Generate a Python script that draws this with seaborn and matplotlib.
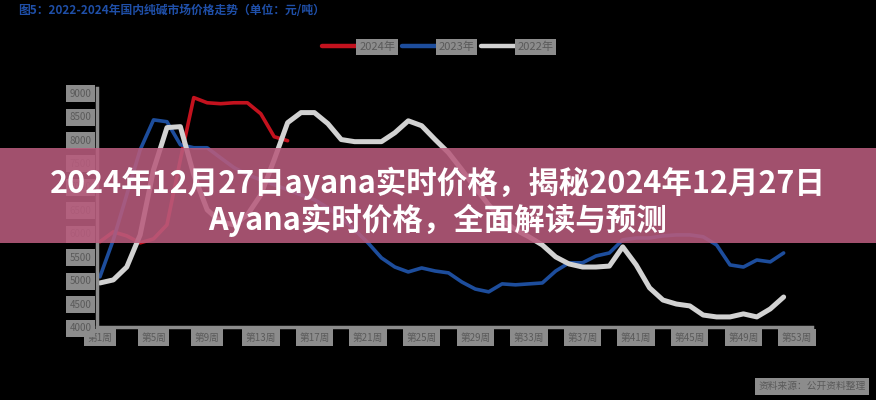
import matplotlib
matplotlib.use("Agg")
import matplotlib.pyplot as plt
from matplotlib.patches import Rectangle
import pandas as pd
import seaborn as sns

# weekly values (yuan / ton)
weeks = list(range(52))
red_2024 = [5820, 6030, 5945, 5795, 5880, 6180, 7570, 8895, 8785, 8765,
            8785, 8785, 8550, 8060, 7975]
blue_2023 = [5070, 5860, 6820, 7780, 8420, 8380, 7890, 7825, 7825, 7610,
             7400, 7250, 7140, 7035, 6930, 6820, 6715, 6545, 6330, 6075,
             5795, 5475, 5280, 5175, 5260, 5195, 5155, 4960, 4810, 4750,
             4920, 4900, 4920, 4940, 5195, 5370, 5370, 5515, 5580, 5860,
             5900, 5900, 5945, 5965, 5965, 5925, 5750, 5325, 5280, 5430,
             5390, 5580]
gray_2022 = [4940, 5005, 5280, 5965, 7355, 8255, 8275, 7250, 6500, 6245,
             6180, 6395, 6820, 7570, 8360, 8575, 8575, 8340, 8000, 7955,
             7955, 7955, 8145, 8400, 8295, 8000, 7720, 7355, 6970, 6605,
             6285, 6075, 5925, 5750, 5495, 5345, 5280, 5280, 5300, 5710,
             5325, 4835, 4575, 4490, 4450, 4255, 4215, 4215, 4280, 4215,
             4385, 4640]
series_names = ["2024年", "2023年", "2022年"]
series_colors = ["#c3121e", "#1d4d9c", "#d2d2d2"]
x_ticks = list(range(0, 53, 4))
x_labels = ["第%d周" % (w + 1) for w in x_ticks]
y_ticks = list(range(4000, 9001, 500))

title = "图5：2022-2024年国内纯碱市场价格走势（单位：元/吨）"
source = "资料来源：公开资料整理"
banner_1 = "2024年12月27日ayana实时价格，揭秘2024年12月27日"
banner_2 = "Ayana实时价格，全面解读与预测"

frames = []
for name, vals in zip(series_names, [red_2024, blue_2023, gray_2022]):
    frames.append(pd.DataFrame({"week": weeks[:len(vals)], "price": vals, "year": name}))
df = pd.concat(frames, ignore_index=True)

sns.set_theme(style="dark")
plt.rcParams['font.family'] = ['Noto Sans CJK SC', 'DejaVu Sans']
plt.rcParams['axes.unicode_minus'] = False

fig = plt.figure(figsize=(8.76, 4.0), dpi=100, facecolor="black")
ax = fig.add_axes([0.1107, 0.1825, 0.816, 0.5975])
ax.set_facecolor("black")

sns.lineplot(data=df, x="week", y="price", hue="year", hue_order=series_names,
             palette=dict(zip(series_names, series_colors)), linewidth=2.6,
             ax=ax, legend=False)
ax.lines[2].set_linewidth(3.6)

ax.set_xlim(-0.22, 53.1)
ax.set_ylim(4000, 9100)
ax.set_xticks(x_ticks)
ax.set_xticklabels(x_labels)
ax.set_yticks(y_ticks)
ax.set_xlabel("")
ax.set_ylabel("")
ax.grid(False)
for side in ["top", "right"]:
    ax.spines[side].set_visible(False)
for side in ["left", "bottom"]:
    ax.spines[side].set_visible(True)
    ax.spines[side].set_color("#8c8c8c")
    ax.spines[side].set_linewidth(2.5)
ax.tick_params(axis="both", length=0, labelsize=7, labelcolor="#5a5a5a", pad=4)
for lab in ax.get_xticklabels() + ax.get_yticklabels():
    lab.set_bbox(dict(facecolor="#8c8c8c", edgecolor="none", pad=2.5))

# legend
handles = [plt.Line2D([], [], color=c, linewidth=3.2) for c in series_colors]
leg = fig.legend(handles, series_names, loc="center", bbox_to_anchor=(0.5, 0.8825),
                 ncol=3, frameon=False, handlelength=3.2, handletextpad=0.1,
                 columnspacing=0.6, fontsize=8)
for t in leg.get_texts():
    t.set_color("#5a5a5a")
    t.set_bbox(dict(facecolor="#8c8c8c", edgecolor="none", pad=2))

fig.text(18 / 876, 1 - 11 / 400, title, color="#1f4fa8", fontsize=8.5,
         fontweight="bold", va="center", ha="left")
fig.text(812 / 876, 1 - 386 / 400, source, color="#5a5a5a", fontsize=7,
         va="center", ha="center",
         bbox=dict(facecolor="#8c8c8c", edgecolor="none", pad=2.5))

# banner overlay
fig.patches.append(Rectangle((0, 1 - 243 / 400), 1, 95 / 400, transform=fig.transFigure,
                             facecolor=(0.72, 0.36, 0.49), alpha=0.88,
                             edgecolor="none", zorder=5))
fig.text(0.5, 1 - 183 / 400, banner_1, color="white", fontsize=22, fontweight="bold",
         ha="center", va="center", zorder=6)
fig.text(0.5, 1 - 220 / 400, banner_2, color="white", fontsize=22, fontweight="bold",
         ha="center", va="center", zorder=6)

fig.savefig("out.png", dpi=100, facecolor="black")
